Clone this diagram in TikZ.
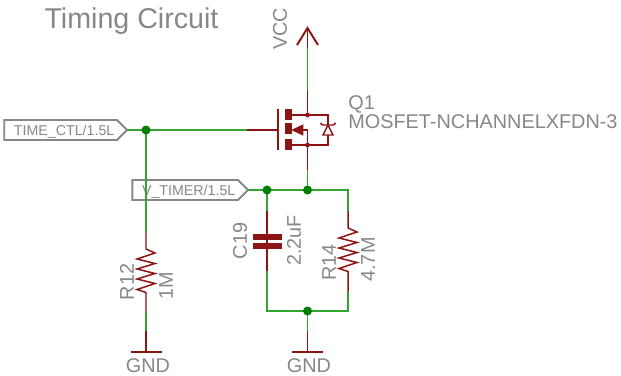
\documentclass[tikz,border=0pt]{standalone}
\usepackage{fontspec}
\setmainfont{Liberation Sans}
\usepackage{tikz}
\usetikzlibrary{shapes.symbols}
\definecolor{wirered}{RGB}{140,20,20}
\definecolor{wiregreen}{RGB}{50,165,50}
\definecolor{dotgreen}{RGB}{0,128,0}
\definecolor{labelgray}{RGB}{135,135,135}
\tikzset{net/.style={draw=wiregreen, line width=0.85pt}}
\tikzset{pinwire/.style={draw=wirered, line width=0.85pt}}
\tikzset{plate/.style={fill=wirered, draw=none}}
\tikzset{junction/.style={circle, inner sep=0pt, minimum size=0.18cm}}
\tikzset{tag/.style={text=labelgray, font=\fontsize{11.3}{13}\selectfont, inner sep=0pt}}
\tikzset{sheetlabel/.style={signal, signal to=east, signal pointer angle=90, draw=labelgray, line width=1.1pt, text=labelgray, font=\fontsize{8.1}{9}\selectfont, minimum height=0.4cm, text height=6pt, text depth=0pt, inner ysep=0pt, inner xsep=1.5pt, outer sep=0pt, anchor=east}}

\begin{document}
\begin{tikzpicture}[x=0.02cm, y=-0.02cm]
    \useasboundingbox (0, 0) rectangle (621, 375);
    \node[tag, font=\fontsize{16.3}{18}\selectfont] (title) at (131.5, 21.5) {Timing Circuit};
    \node[sheetlabel, minimum width=2.38cm] (timectl) at (127, 130) {\hspace*{4pt}TIME\_CTL/1.5L};
    \node[sheetlabel, minimum width=2.22cm] (vtimer) at (248, 190) {\hspace*{4pt}V\_TIMER/1.5L};

    \coordinate (vcc) at (307.5, 28);
    \coordinate (vccwing1) at (297, 45);
    \coordinate (vccwing2) at (318, 45);
    \coordinate (vccred) at (307.5, 48);
    \coordinate (drainred) at (307.5, 90);
    \coordinate (sourcered) at (307.5, 170);
    \coordinate (gatered) at (247, 130);
    \coordinate (gate) at (278, 130);
    \coordinate (ctlbot) at (146, 232);
    \coordinate (r12bot) at (146, 312);
    \coordinate (gnd1red) at (146, 331);
    \coordinate (gnd1) at (146, 352);
    \coordinate (c19top) at (267, 211);
    \coordinate (c19bot) at (267, 271);
    \coordinate (botleft) at (267, 311);
    \coordinate (busright) at (348, 190);
    \coordinate (r14top) at (348, 211);
    \coordinate (r14bot) at (348, 291);
    \coordinate (botright) at (348, 311);
    \coordinate (gnd2red) at (307.5, 331);
    \coordinate (gnd2) at (307.5, 352);

    \node[junction] (ctldot) at (146, 130) {};
    \node[junction] (timerdot) at (267, 190) {};
    \node[junction] (busdot) at (307.5, 190) {};
    \node[junction] (botdot) at (307.5, 311) {};

    % green nets
    \draw[net] (timectl.east) -- (gatered);
    \draw[net] (ctldot.center) -- (ctlbot);
    \draw[net] (r12bot) -- (gnd1red);
    \draw[net] (vccred) -- (drainred);
    \draw[net] (vtimer.east) -- (busright) -- (r14top);
    \draw[net] (sourcered) -- (busdot.center);
    \draw[net] (timerdot.center) -- (c19top);
    \draw[net] (c19bot) -- (botleft) -- (botright) -- (r14bot);
    \draw[net] (botdot.center) -- (gnd2red);
    \foreach \dotname in {ctldot, timerdot, busdot, botdot} {
        \fill[dotgreen] (\dotname.center) circle [radius = 4.5];
    }

    % supply symbols and pins
    \draw[pinwire, line width=1.1pt] (vccwing1) -- (vcc) -- (vccwing2);
    \draw[pinwire] (vcc) -- (vccred);
    \draw[pinwire] (gatered) -- (gate);
    \draw[pinwire] (gnd1red) -- (gnd1);
    \draw[pinwire] (gnd2red) -- (gnd2);
    \draw[pinwire, line width=1.1pt] (131, 352) -- (162, 352);
    \draw[pinwire, line width=1.1pt] (292, 352) -- (323, 352);

    % mosfet
    \coordinate (drain) at (307.5, 115);
    \coordinate (source) at (307.5, 145);
    \draw[pinwire, line width=1.1pt] (278, 109) -- (278, 150);
    \foreach \bary in {109, 123, 139} {
        \fill[plate] (285, \bary) rectangle ++(7, 11);
    }
    \draw[pinwire] (drainred) -- (drain);
    \draw[pinwire] (source) -- (sourcered);
    \draw[pinwire] (292, 115) -- (328, 115) -- (328, 145) -- (292, 145);
    \draw[pinwire] (303, 130) -- (307.5, 130) -- (source);
    \draw[pinwire, fill=wirered] (293, 130) -- (302.5, 125.5) -- (302.5, 134.5) -- cycle;
    \draw[pinwire, fill=white] (328, 125) -- (323, 135) -- (333, 135) -- cycle;
    \draw[pinwire] (320.5, 123) -- (322.5, 125) -- (333.5, 125) -- (335.5, 123);
    \fill[wirered] (drain) circle [radius = 2.4];
    \fill[wirered] (source) circle [radius = 2.4];

    % capacitor
    \draw[pinwire] (c19top) -- (c19bot);
    \fill[plate] (253, 234) rectangle (282, 239.5);
    \fill[plate] (253, 243) rectangle (282, 248.5);

    % resistors
    \foreach \rx/\ry in {146/272, 348/251} {
        \draw[pinwire] (\rx, \ry - 40) -- (\rx, \ry - 23)
            -- ++(9, 4) -- ++(-18, 6) -- ++(18, 4.5) -- ++(-18, 5.5) -- ++(18, 4.5) -- ++(-18, 5.5) -- ++(18, 4.5) -- ++(-18, 6) -- ++(9, 3) -- (\rx, \ry + 40);
    }

    \node[tag, rotate=90] (vcctext) at (280, 29) {VCC};
    \node[tag, anchor=west] (q1) at (348, 104) {Q1};
    \node[tag, anchor=west] (mosfet) at (348, 122) {MOSFET-NCHANNELXFDN-3};
    \node[tag, rotate=90] (c19) at (240, 241) {C19};
    \node[tag, rotate=90] (c19val) at (294, 240.5) {2.2uF};
    \node[tag, rotate=90] (r14) at (329, 262.5) {R14};
    \node[tag, rotate=90] (r14val) at (368, 259.5) {4.7M};
    \node[tag, rotate=90] (r12) at (127, 282) {R12};
    \node[tag, rotate=90] (r12val) at (166, 285.5) {1M};
    \node[tag] (gndtext1) at (148, 366) {GND};
    \node[tag] (gndtext2) at (309, 366) {GND};
\end{tikzpicture}
\end{document}
